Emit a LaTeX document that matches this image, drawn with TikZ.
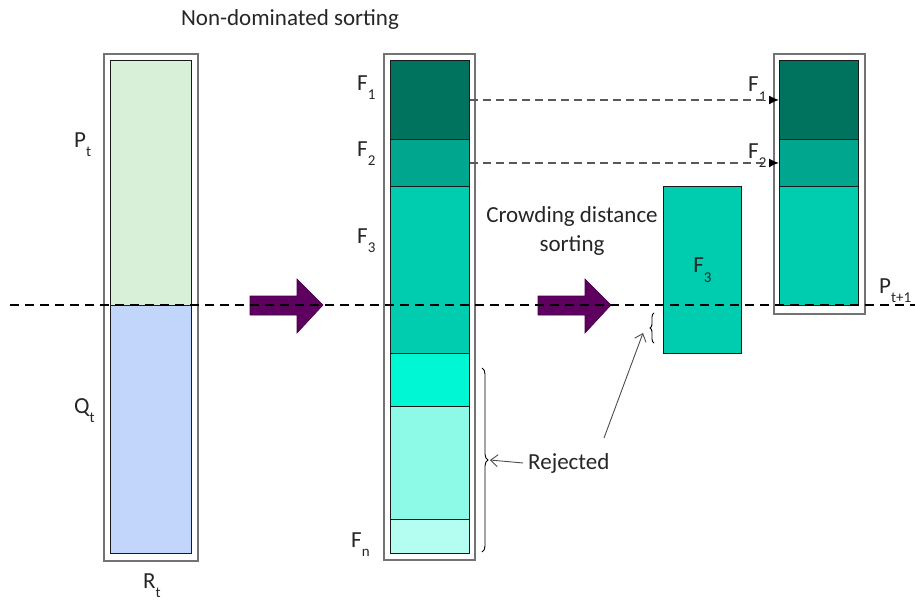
\documentclass[tikz,border=0pt]{standalone}
\usepackage{fontspec}
\setmainfont{Carlito}
\usetikzlibrary{arrows.meta,decorations.pathreplacing}
\definecolor{PopGreen}{HTML}{D7F0D7}
\definecolor{PopBlue}{HTML}{C2D6FB}
\definecolor{FrontA}{HTML}{00735F}
\definecolor{FrontB}{HTML}{00A68E}
\definecolor{FrontC}{HTML}{00CCAF}
\definecolor{FrontD}{HTML}{00F7D4}
\definecolor{FrontE}{HTML}{8DFAE8}
\definecolor{FrontN}{HTML}{B4FEF1}
\definecolor{ArrowPurple}{HTML}{5E0060}
\newcommand{\sublbl}[2]{#1\raisebox{-0.42em}{\fontsize{15}{15}\selectfont #2}}

\begin{document}
\begin{tikzpicture}[x=1pt,y=-1pt,
    every node/.style={font=\fontsize{23}{29}\selectfont, text=black!85, inner sep=0pt},
    frame/.style={draw=black!55, line width=1.7pt, anchor=north west},
    seg/.style={draw=black!90, line width=0.9pt, fill=#1, anchor=north west, minimum width=79pt},
    bigarrow/.style={fill=ArrowPurple, draw=ArrowPurple!70!black, line width=0.6pt},
    cutline/.style={black, line width=1.1pt, dash pattern=on 9pt off 6pt},
    fwd/.style={draw=black!65, line width=1.3pt, dash pattern=on 8pt off 5pt, -{Latex[length=10pt,width=9pt,color=black]}},
    note/.style={draw=black!70, line width=0.9pt, -{Straight Barb[length=7pt,width=12pt]}},
    bracket/.style={decorate, draw=black, line width=0.9pt, decoration={brace, amplitude=#1}}]
    \useasboundingbox (0,0) rectangle (915,602);

    %% R_t = P_t + Q_t
    \node[frame, minimum width=94pt, minimum height=507pt] (rt) at (103,53) {};
    \node[seg=PopGreen, minimum width=81pt, minimum height=245pt] (pt) at (110,60) {};
    \node[seg=PopBlue, minimum width=81pt, minimum height=248pt] (qt) at (110,305) {};
    \node[anchor=base west] (ptlbl) at (74,147) {\sublbl{P}{t}};
    \node[anchor=base west] (qtlbl) at (74,413) {\sublbl{Q}{t}};
    \node[anchor=base west] (rtlbl) at (143,588) {\sublbl{R}{t}};
    \node[anchor=base] (title) at (290,26) {Non-dominated sorting};

    %% fronts
    \node[frame, minimum width=91pt, minimum height=506pt] (fronts) at (383,53) {};
    \foreach \n/\y/\h/\c in {mf1/60/79/FrontA, mf2/139/47/FrontB, mf3/186/167/FrontC,
                             mf4/353/53/FrontD, mf5/406/113/FrontE, mfn/519/34/FrontN}
    {
    \node[seg=\c, minimum height=\h pt] (\n) at (390,\y) {};
    }
    \node[anchor=base west] (lf1) at (357,90) {\sublbl{F}{1}};
    \node[anchor=base west] (lf2) at (357,156) {\sublbl{F}{2}};
    \node[anchor=base west] (lf3) at (357,243) {\sublbl{F}{3}};
    \node[anchor=base west] (lfn) at (351,547) {\sublbl{F}{n}};

    %% crowding distance
    \node[seg=FrontC, minimum width=78pt, minimum height=167pt] (cd) at (663,186) {\sublbl{F}{3}};
    \node[align=center] (cdtxt) at (572,231) {Crowding distance\\sorting};

    %% P_{t+1}
    \node[frame, minimum width=91pt, minimum height=260pt] (pnext) at (773,53) {};
    \node[seg=FrontA, minimum height=79pt] (rf1) at (779,60) {};
    \node[seg=FrontB, minimum height=47pt] (rf2) at (779,139) {};
    \node[seg=FrontC, minimum height=119pt] (rf3) at (779,186) {};
    \node[anchor=base west] (rl1) at (748,92) {\sublbl{F}{1}};
    \node[anchor=base west] (rl2) at (748,158) {\sublbl{F}{2}};
    \node[anchor=base west] (pnlbl) at (879,293) {\sublbl{P}{t+1}};

    \draw[fwd] (mf1.east) -- (rf1.west);
    \draw[fwd] (mf2.east) -- (rf2.west);

    \foreach \x in {250,538}
    {
    \filldraw[bigarrow] (\x,296) -- (\x+47,296) -- (\x+47,279) -- (\x+73,305)
        -- (\x+47,333) -- (\x+47,315) -- (\x,315) -- cycle;
    }

    %% rejected part
    \draw[bracket=6pt] (482,368) -- (482,552);
    \coordinate (bracetip) at (490,460);
    \node[anchor=base west] (rej) at (528,469) {Rejected};
    \draw[note] ([xshift=-5pt]rej.west) -- (bracetip);
    \draw[bracket=4pt] (654,343) -- (654,313);
    \coordinate (cdfrom) at (604,438);
    \coordinate (cdto) at (643,333);
    \draw[note] (cdfrom) -- (cdto);

    %% cut line
    \coordinate (cutL) at (10,305);
    \coordinate (cutR) at (915,305);
    \draw[cutline] (cutL) -- (cutR);
\end{tikzpicture}
\end{document}
